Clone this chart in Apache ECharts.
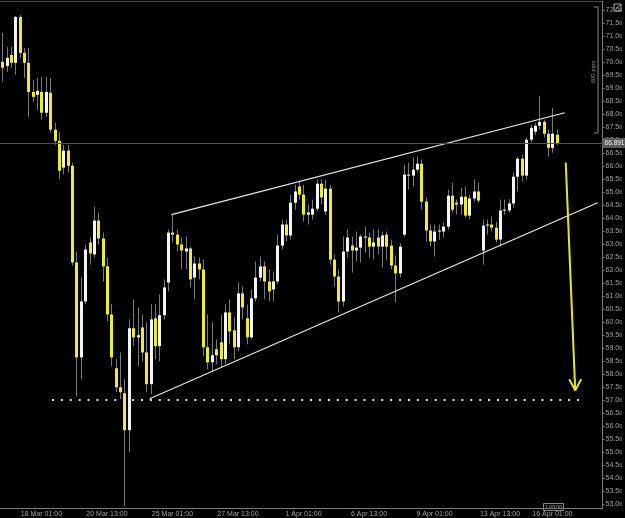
<!DOCTYPE html>
<html lang="en">
<head>
    <meta charset="UTF-8">
    <title>Candles</title>
    <style>
        html, body { margin: 0; padding: 0; background: #000; }
        #chart { width: 625px; height: 518px; }
    </style>
</head>
<body>
<div id="chart"></div>
<script src="https://cdn.jsdelivr.net/npm/echarts@6/dist/echarts.min.js"></script>
<script>
    // 4H candles
    var opens = [70.01, 69.85, 70.27, 69.97, 71.73, 70.35, 69.97, 68.85, 68.74, 68.85,
        68.05, 68.82, 67.40, 66.97, 65.94, 66.59, 66.01, 62.29, 58.64, 60.79,
        63.06, 62.60, 63.90, 63.21, 62.14, 60.29, 58.22, 57.49, 57.26, 55.84,
        59.76, 59.41, 59.79, 58.83, 57.61, 60.14, 59.07, 60.26, 61.52, 63.44,
        63.36, 62.98, 62.71, 62.83, 61.71, 62.25, 62.02, 59.03, 58.45, 58.95,
        59.22, 58.57, 60.37, 59.68, 59.03, 61.10, 60.14, 59.41, 60.91, 61.71,
        62.14, 61.56, 61.25, 61.56, 62.94, 63.75, 63.33, 64.59, 65.21, 64.90,
        64.13, 64.13, 64.36, 65.32, 64.25, 65.13, 62.40, 61.75, 60.79, 62.71,
        62.94, 62.75, 62.86, 63.25, 63.25, 62.90, 63.25, 62.90, 63.36, 62.94,
        62.17, 61.87, 63.36, 65.63, 65.63, 65.86, 66.09, 64.63, 63.52, 63.10,
        63.48, 63.48, 63.67, 64.86, 64.59, 64.52, 64.82, 64.09, 64.75, 65.02,
        62.75, 63.71, 63.75, 63.63, 63.17, 64.29, 64.29, 64.56, 65.59, 66.28,
        65.63, 67.01, 67.32, 67.55, 67.70, 67.24, 66.70, 67.20];
    var closes = [69.78, 70.16, 69.97, 71.73, 70.35, 69.97, 68.85, 68.66, 68.89, 68.05,
        68.85, 67.40, 66.97, 65.82, 66.59, 66.01, 62.29, 58.64, 60.79, 62.79,
        62.64, 63.90, 63.21, 62.14, 60.29, 58.64, 57.49, 57.30, 55.84, 59.76,
        59.41, 59.49, 58.83, 57.61, 60.10, 59.07, 60.26, 61.33, 63.44, 63.36,
        62.98, 62.75, 62.83, 61.64, 62.25, 62.02, 59.03, 58.45, 58.72, 58.72,
        58.57, 60.37, 59.64, 59.03, 61.10, 60.56, 59.41, 60.91, 61.71, 62.14,
        61.56, 61.18, 61.56, 62.94, 63.75, 63.33, 64.59, 65.02, 64.90, 64.13,
        64.21, 64.36, 65.32, 64.79, 65.13, 62.40, 61.75, 60.79, 62.71, 63.25,
        62.75, 62.86, 63.29, 63.29, 62.90, 63.06, 62.90, 63.33, 62.90, 62.17,
        61.87, 62.90, 65.67, 65.67, 65.86, 66.09, 64.63, 63.52, 63.10, 63.48,
        63.52, 63.67, 64.86, 64.32, 64.52, 64.82, 64.09, 64.75, 65.02, 64.67,
        63.71, 63.75, 63.63, 63.17, 64.29, 64.32, 64.56, 65.59, 66.28, 65.63,
        67.01, 67.47, 67.55, 67.70, 67.24, 66.70, 67.24, 66.89];
    var lows = [69.24, 69.62, 69.78, 69.51, 70.16, 69.39, 67.89, 68.47, 68.16, 67.78,
        67.89, 67.28, 66.82, 65.48, 65.67, 65.75, 62.17, 57.14, 57.80, 60.68,
        62.21, 62.48, 62.98, 61.56, 60.02, 58.30, 57.30, 57.03, 52.92, 55.00,
        59.07, 58.30, 58.49, 57.30, 57.22, 58.57, 58.49, 60.10, 61.18, 63.06,
        62.71, 62.02, 62.02, 61.33, 60.87, 61.64, 58.68, 58.18, 58.07, 58.37,
        58.26, 58.37, 59.14, 58.57, 58.87, 60.10, 59.14, 59.33, 60.79, 61.56,
        60.87, 60.79, 60.79, 61.45, 62.79, 63.10, 63.17, 64.32, 64.71, 63.86,
        63.75, 63.94, 64.25, 64.52, 64.13, 62.21, 61.37, 60.37, 60.60, 62.48,
        61.90, 62.33, 62.29, 62.67, 62.48, 62.40, 62.60, 62.10, 62.40, 62.02,
        60.75, 61.71, 63.29, 65.09, 65.21, 65.78, 64.32, 63.10, 62.90, 62.52,
        63.17, 63.25, 63.56, 64.21, 64.13, 64.13, 64.02, 63.94, 64.63, 64.59,
        62.21, 63.36, 63.48, 63.06, 62.90, 64.13, 64.21, 64.40, 65.02, 65.40,
        65.48, 66.90, 67.20, 67.40, 67.09, 66.36, 66.51, 66.82];
    var highs = [71.12, 70.58, 70.58, 71.77, 71.81, 70.54, 70.54, 69.32, 69.39, 69.43,
        69.43, 69.39, 67.66, 67.32, 66.82, 66.82, 66.13, 62.71, 61.71, 62.98,
        63.25, 64.44, 64.21, 63.44, 62.48, 60.68, 58.57, 58.83, 57.80, 60.10,
        60.87, 60.56, 60.29, 59.99, 60.68, 60.68, 61.06, 61.64, 63.56, 64.13,
        63.56, 63.25, 63.29, 62.90, 62.52, 62.48, 62.40, 60.29, 59.99, 59.33,
        60.29, 60.68, 60.87, 60.18, 61.52, 61.37, 60.68, 61.25, 62.33, 62.52,
        62.33, 62.02, 61.94, 63.36, 63.94, 63.94, 64.90, 65.28, 65.44, 65.28,
        64.52, 64.71, 65.48, 65.48, 65.48, 65.28, 62.60, 62.02, 63.29, 63.56,
        63.29, 63.48, 63.36, 63.67, 63.44, 63.56, 63.56, 63.48, 63.48, 63.17,
        62.56, 63.02, 66.05, 66.13, 66.32, 66.36, 66.24, 64.79, 63.75, 63.75,
        63.75, 63.83, 65.09, 65.36, 64.71, 65.17, 65.21, 64.90, 65.48, 65.36,
        63.94, 63.94, 64.06, 63.86, 64.71, 64.71, 64.71, 65.75, 66.36, 66.44,
        67.09, 67.59, 67.66, 68.70, 67.78, 67.40, 68.24, 67.40];

    var slotCount = 138;
    var lastPrice = 66.891;

    var tickIndex = [9, 24, 39, 54, 69, 84, 99, 114, 126];
    var tickLabels = ['18 Mar 01:00', '20 Mar 13:00', '25 Mar 01:00', '27 Mar 13:00', '1 Apr 01:00',
        '6 Apr 13:00', '9 Apr 01:00', '13 Apr 13:00', '16 Apr 01:00'];
    var priceTicks = [53, 53.5, 54, 54.5, 55, 55.5, 56, 56.5, 57, 57.5, 58, 58.5, 59, 59.5,
        60, 60.5, 61, 61.5, 62, 62.5, 63, 63.5, 64, 64.5, 65, 65.5, 66, 66.5,
        67, 67.5, 68, 68.5, 69, 69.5, 70, 70.5, 71, 71.5, 72];

    // drawn objects, as [slot, price]
    var upperTrend = [[38.76, 64.13], [128.83, 68.05]];
    var lowerTrend = [[33.75, 57.05], [136.36, 64.59]];
    var supportLevel = [[11.4, 57.0], [132.3, 57.0]];
    var arrowShaft = [[129.06, 66.13], [131.23, 57.37]];
    var arrowHead = [[129.86, 57.80], [131.23, 57.37], [132.6, 57.80]];

    var myChart = echarts.init(document.getElementById('chart'));

    var slots = [];
    for (var i = 0; i < slotCount; i++) slots.push(i);
    var candles = opens.map(function (o, i) {
        return [i, o, closes[i], lows[i], highs[i]];
    });

    function renderCandle(params, api) {
        var idx = api.value(0);
        var o = api.coord([idx, api.value(1)]);
        var c = api.coord([idx, api.value(2)]);
        var lo = api.coord([idx, api.value(3)]);
        var hi = api.coord([idx, api.value(4)]);
        var x = Math.round(o[0]);
        var up = api.value(2) >= api.value(1);
        var top = Math.min(o[1], c[1]);
        var h = Math.max(Math.abs(o[1] - c[1]), 1);
        return {
            type: 'group',
            children: [
                { type: 'line', shape: { x1: x + 0.5, y1: hi[1], x2: x + 0.5, y2: lo[1] },
                  style: { stroke: '#7a7a7a', lineWidth: 1 } },
                { type: 'rect', shape: { x: x - 1, y: top, width: 3, height: h },
                  style: { fill: up ? '#f4f4f4' : '#ecea3a' } }
            ]
        };
    }

    function showTick(idx) { return tickIndex.indexOf(idx) >= 0; }

    var drawLine = function (data, color, width, type) {
        return {
            type: 'line', xAxisIndex: 1, data: data, symbol: 'none', silent: true,
            animation: false, lineStyle: { color: color, width: width, type: type || 'solid' }
        };
    };

    var option = {
        backgroundColor: '#000',
        animation: false,
        grid: { left: -2.2, right: 22, top: 2, bottom: 9 },
        xAxis: [{
            type: 'category',
            data: slots,
            boundaryGap: true,
            axisLine: { onZero: false, lineStyle: { color: '#7a7a7a' } },
            axisTick: { interval: showTick, alignWithLabel: true, length: 2, lineStyle: { color: '#7a7a7a' } },
            axisLabel: {
                interval: showTick, color: '#a0a0a0', fontSize: 7, margin: 3,
                fontFamily: 'Liberation Sans',
                formatter: function (v) {
                    var k = tickIndex.indexOf(Number(v));
                    return k >= 0 ? tickLabels[k] : '';
                }
            },
            splitLine: { show: false }
        }, {
            type: 'value', min: -0.5, max: slotCount - 0.5, show: false,
            axisLine: { show: false, onZero: false }, splitLine: { show: false }
        }],
        yAxis: {
            type: 'value',
            position: 'right',
            min: 52.846,
            max: 72.309,
            axisLine: { show: true, onZero: false, lineStyle: { color: '#7a7a7a' } },
            axisTick: { show: true, length: 2, customValues: priceTicks, lineStyle: { color: '#7a7a7a' } },
            axisLabel: {
                customValues: priceTicks, margin: 3, color: '#a0a0a0', fontSize: 7,
                fontFamily: 'Liberation Sans',
                formatter: function (v) {
                    var s = v.toFixed(2);
                    return '{a|' + s.slice(0, -1) + '}{b|' + s.slice(-1) + '}';
                },
                rich: {
                    a: { color: '#a0a0a0', fontSize: 7, fontFamily: 'Liberation Sans' },
                    b: { color: '#a0a0a0', fontSize: 5, fontFamily: 'Liberation Sans', verticalAlign: 'bottom' }
                }
            },
            splitLine: { show: false }
        },
        series: [
            {
                type: 'line', xAxisIndex: 1, data: [], symbol: 'none', silent: true,
                markLine: {
                    silent: true, symbol: 'none', animation: false,
                    lineStyle: { color: '#505050', width: 1, type: 'solid' },
                    label: {
                        show: true, position: 'end', distance: 0,
                        formatter: lastPrice.toFixed(3),
                        color: '#f0f0f0', fontSize: 6.5, fontFamily: 'Liberation Sans',
                        backgroundColor: '#5c5c5c', padding: [2, 1, 1, 2]
                    },
                    data: [{ yAxis: lastPrice }]
                }
            },
            {
                type: 'custom',
                renderItem: renderCandle,
                data: candles,
                encode: { x: 0, y: [1, 2, 3, 4] },
                animation: false,
                z: 3
            },
            drawLine(upperTrend, '#e8e8e8', 1.2),
            drawLine(lowerTrend, '#e8e8e8', 1.2),
            drawLine(supportLevel, '#e0e0e0', 2, [2, 6.9]),
            drawLine(arrowShaft, '#e6e433', 2),
            drawLine(arrowHead, '#e6e433', 2)
        ],
        graphic: [
            { type: 'line', shape: { x1: 0, y1: 1.5, x2: 604, y2: 1.5 },
              style: { stroke: '#4a4a4a', lineWidth: 1 }, silent: true },
            { type: 'polyline', shape: { points: [[594, 7], [598, 7], [598, 133], [594, 133]] },
              style: { stroke: '#8a8a8a', fill: null, lineWidth: 1 }, silent: true },
            { type: 'text', x: 593, y: 72, rotation: Math.PI / 2,
              style: { text: '600 pips', fill: '#8a8a8a', fontSize: 6, fontFamily: 'Liberation Sans',
                       align: 'center', verticalAlign: 'middle' }, silent: true },
            { type: 'rect', shape: { x: 614, y: 4, width: 7, height: 7 },
              style: { stroke: '#b0b0b0', fill: '#000', lineWidth: 1 }, silent: true },
            { type: 'line', shape: { x1: 616, y1: 9, x2: 620, y2: 5 },
              style: { stroke: '#b0b0b0', lineWidth: 1 }, silent: true },
            { type: 'rect', shape: { x: 543.5, y: 503.5, width: 20, height: 7 },
              style: { stroke: '#8a8a8a', fill: '#000', lineWidth: 1 }, silent: true },
            { type: 'text', x: 553.5, y: 507.5,
              style: { text: '1 00:00', fill: '#b0b0b0', fontSize: 5, fontFamily: 'Liberation Sans',
                       align: 'center', verticalAlign: 'middle' }, silent: true }
        ]
    };

    myChart.setOption(option);
</script>
</body>
</html>
